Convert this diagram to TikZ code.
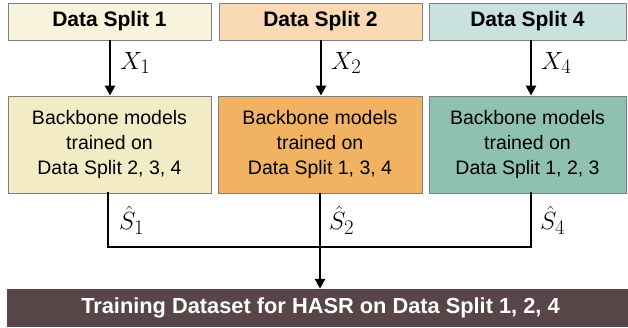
\documentclass[tikz,border=0pt]{standalone}
\usepackage{fontspec}
\setmainfont{Liberation Sans}
\usetikzlibrary{arrows.meta}
\definecolor{topA}{HTML}{F8F3DC}
\definecolor{topB}{HTML}{F9DAB4}
\definecolor{topC}{HTML}{C9E2DD}
\definecolor{midA}{HTML}{F3EBC5}
\definecolor{midB}{HTML}{F1B262}
\definecolor{midC}{HTML}{8EC1B2}
\definecolor{barfill}{HTML}{574548}
\definecolor{edgegray}{HTML}{7F7F7F}
\tikzset{
  splitbox/.style={draw=edgegray, line width=0.8pt, inner sep=0pt,
    minimum height=37pt, font=\fontsize{21}{24}\selectfont\bfseries},
  modelbox/.style={draw=edgegray, line width=0.8pt, inner sep=0pt,
    minimum height=97pt, align=center, font=\fontsize{19.5}{25}\selectfont},
  flow/.style={line width=2.8pt, -{Triangle[length=10pt,width=10pt]}},
  joinline/.style={line width=2.8pt},
  mathlab/.style={inner sep=0pt, font=\fontsize{28}{32}\selectfont, anchor=west}
}
\begin{document}
\begin{tikzpicture}[x=1pt,y=-1pt]
\useasboundingbox (0,0) rectangle (628,327);
% input splits
\node[splitbox, fill=topA, minimum width=203pt] (t1) at (109.5,21.5) {Data Split 1};
\node[splitbox, fill=topB, minimum width=203pt] (t2) at (320.5,21.5) {Data Split 2};
\node[splitbox, fill=topC, minimum width=197pt] (t3) at (527.5,21.5) {Data Split 4};
% backbone models
\node[modelbox, fill=midA, minimum width=203pt] (m1) at (109.5,144.5) {Backbone models\\trained on\\Data Split 2, 3, 4};
\node[modelbox, fill=midB, minimum width=204pt] (m2) at (320,144.5) {Backbone models\\trained on\\Data Split 1, 3, 4};
\node[modelbox, fill=midC, minimum width=197pt] (m3) at (527.5,144.5) {Backbone models\\trained on\\Data Split 1, 2, 3};
% output dataset
\node[fill=barfill, text=white, inner sep=0pt, minimum width=621pt, minimum height=38pt,
  font=\fontsize{21.8}{24}\selectfont\bfseries] (bar) at (317.5,308) {\hspace*{6pt}Training Dataset for HASR on Data Split 1, 2, 4};
% inputs into the models
\draw[flow] (t1.south -| 110,0) -- (m1.north -| 110,0);
\draw[flow] (t2.south -| 321,0) -- (m2.north -| 321,0);
\draw[flow] (t3.south -| 531,0) -- (m3.north -| 531,0);
\node[mathlab] (x1) at (120,63) {$X_1$};
\node[mathlab] (x2) at (331,63) {$X_2$};
\node[mathlab] (x4) at (541,63) {$X_4$};
% predictions merged into the training set
\coordinate (jl) at (108,247);
\coordinate (jc) at (320,247);
\coordinate (jr) at (531,247);
\draw[joinline, line cap=rect] (m1.south -| jl) -- (jl) -- (jr) -- (m3.south -| jr);
\draw[joinline] (m2.south -| jc) -- (jc);
\draw[flow] (jc) -- (bar.north -| jc);
\node[mathlab] (s1) at (119,220) {$\hat{S}_1$};
\node[mathlab] (s2) at (329,220) {$\hat{S}_2$};
\node[mathlab] (s4) at (540,220) {$\hat{S}_4$};
\end{tikzpicture}
\end{document}
